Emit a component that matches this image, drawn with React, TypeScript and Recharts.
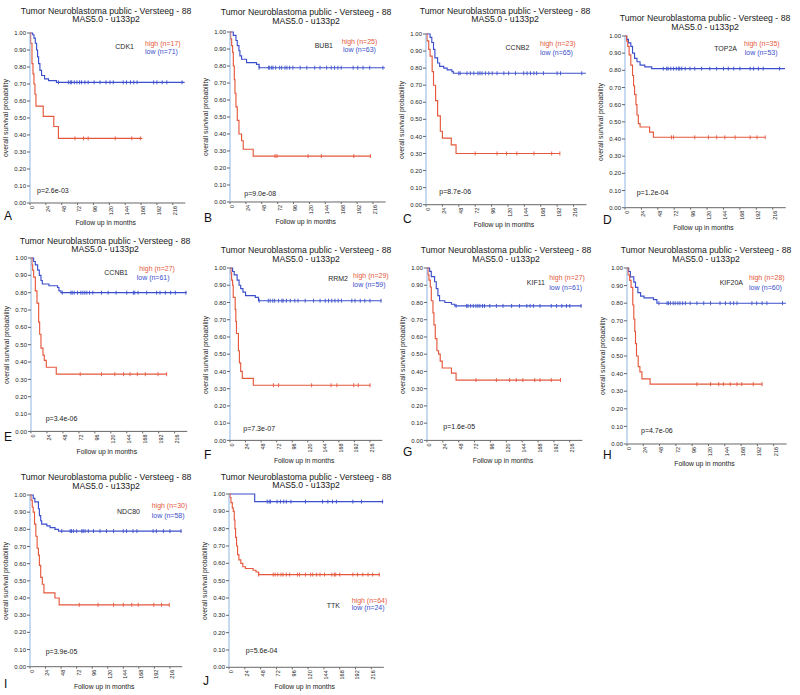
import React from 'react';
import { ComposedChart, Line, Scatter, XAxis, YAxis } from 'recharts';

type Pt = [number, number];

// ---------- data ----------
const xTicks = [0, 24, 48, 72, 96, 120, 144, 168, 192, 216];
const yTicks = [0, 0.1, 0.2, 0.3, 0.4, 0.5, 0.6, 0.7, 0.8, 0.9, 1.0];
const genes = ['CDK1', 'BUB1', 'CCNB2', 'TOP2A', 'CCNB1', 'RRM2', 'KIF11', 'KIF20A', 'NDC80', 'TTK'];
const nHigh = [17, 25, 23, 35, 27, 29, 27, 28, 30, 64];
const nLow = [71, 63, 65, 53, 61, 59, 61, 60, 58, 24];
const pValues = ['2.6e-03', '9.0e-08', '8.7e-06', '1.2e-04', '3.4e-06', '7.3e-07', '1.6e-05', '4.7e-06', '3.9e-05', '5.6e-04'];
const letters = ['A', 'B', 'C', 'D', 'E', 'F', 'G', 'H', 'I', 'J'];

const cdk1High: Pt[] = [[0, 1], [1, 0.94], [3, 0.82], [4.5, 0.76], [6, 0.7], [7.5, 0.64], [9, 0.57], [20, 0.51], [36, 0.45], [43, 0.38], [170, 0.38]];
const cdk1HighCens = [68, 81, 88, 129, 154, 167];
const cdk1Low: Pt[] = [[0, 1], [4, 0.99], [6, 0.97], [8, 0.94], [10, 0.9], [11.5, 0.86], [13, 0.82], [15, 0.78], [17.5, 0.75], [22, 0.73], [28, 0.72], [40, 0.71], [234, 0.71]];
const cdk1LowCens = [43, 58, 61, 63, 67, 71, 75, 78, 83, 88, 97, 106, 115, 121, 126, 141, 146, 152, 157, 162, 187, 192, 200, 207, 230];

const bub1High: Pt[] = [[0, 1], [1, 0.96], [2.5, 0.92], [4, 0.88], [5, 0.8], [6.5, 0.72], [7.5, 0.64], [9, 0.56], [11, 0.48], [13.5, 0.4], [17.5, 0.36], [20, 0.31], [35, 0.27], [213, 0.27]];
const bub1HighCens = [68, 71, 118, 138, 187, 212];
const bub1Low: Pt[] = [[0, 1], [5, 0.98], [9, 0.95], [11, 0.92], [13.5, 0.89], [15, 0.86], [17.5, 0.84], [25, 0.82], [40, 0.81], [44, 0.79], [234, 0.79]];
const bub1LowCens = [44, 58, 60, 63, 65, 69, 75, 78, 83, 86, 90, 95, 106, 116, 128, 136, 146, 153, 158, 163, 168, 186, 193, 201, 211, 231];

const ccnb2High: Pt[] = [[0, 1], [1.5, 0.96], [4, 0.91], [6, 0.87], [9, 0.78], [11, 0.7], [14, 0.61], [17, 0.52], [21, 0.43], [24, 0.39], [37, 0.35], [44, 0.3], [196, 0.3]];
const ccnb2HighCens = [72, 104, 118, 133, 158, 184, 196];
const ccnb2Low: Pt[] = [[0, 1], [6, 0.98], [8.5, 0.95], [11, 0.91], [13, 0.86], [17, 0.83], [20, 0.81], [26, 0.8], [31, 0.79], [38, 0.78], [40, 0.77], [234, 0.77]];
const ccnb2LowCens = [48, 50, 60, 65, 70, 76, 79, 82, 87, 92, 97, 104, 114, 121, 131, 143, 148, 153, 158, 162, 172, 192, 197, 228];

const top2aHigh: Pt[] = [[0, 1], [2.5, 0.97], [4, 0.94], [6, 0.89], [8.5, 0.83], [11, 0.77], [12.5, 0.71], [14, 0.66], [16, 0.6], [17.5, 0.54], [19.5, 0.49], [22, 0.47], [36, 0.44], [41.5, 0.41], [205, 0.41]];
const top2aHighCens = [68, 71, 102, 122, 134, 146, 161, 183, 193, 205];
const top2aLow: Pt[] = [[0, 1], [2.5, 0.98], [5, 0.96], [8.5, 0.94], [11, 0.9], [14, 0.87], [17.5, 0.85], [22, 0.83], [29, 0.82], [39, 0.81], [234, 0.81]];
const top2aLowCens = [56, 61, 63, 67, 71, 75, 78, 80, 83, 88, 95, 102, 112, 124, 134, 144, 151, 159, 168, 183, 188, 195, 202, 226];

const ccnb1High: Pt[] = [[0, 1], [1.5, 0.96], [2.5, 0.93], [4, 0.89], [6.5, 0.81], [9, 0.74], [11.5, 0.63], [13, 0.56], [15, 0.48], [18, 0.44], [20, 0.41], [23, 0.37], [38, 0.33], [204, 0.33]];
const ccnb1HighCens = [74, 106, 126, 139, 149, 160, 172, 191, 204];
const ccnb1Low: Pt[] = [[0, 1], [4, 0.98], [6.5, 0.96], [10, 0.93], [12.5, 0.9], [15, 0.87], [17, 0.85], [27, 0.84], [40, 0.83], [42, 0.81], [45, 0.8], [234, 0.8]];
const ccnb1LowCens = [47, 60, 62, 65, 70, 75, 78, 81, 84, 88, 93, 106, 116, 128, 144, 154, 156, 161, 174, 189, 194, 202, 210, 217, 233];

const rrm2High: Pt[] = [[0, 1], [1.5, 0.97], [2.5, 0.93], [4, 0.9], [5, 0.83], [8, 0.76], [9, 0.69], [10, 0.62], [13, 0.52], [14.5, 0.45], [16.5, 0.4], [19, 0.36], [36, 0.32], [217, 0.32]];
const rrm2HighCens = [67, 75, 126, 156, 165, 191, 198, 216];
const rrm2Low: Pt[] = [[0, 1], [4, 0.98], [6.5, 0.96], [11, 0.93], [14, 0.9], [16.5, 0.88], [20, 0.86], [24, 0.84], [39, 0.83], [44, 0.81], [234, 0.81]];
const rrm2LowCens = [45, 59, 62, 66, 69, 75, 80, 82, 87, 93, 100, 105, 116, 129, 139, 147, 152, 157, 162, 167, 172, 188, 193, 201, 208, 216, 233];

const kif11High: Pt[] = [[0, 1], [1.5, 0.96], [3, 0.93], [5, 0.89], [6.5, 0.81], [9, 0.74], [10.5, 0.67], [12.5, 0.59], [15, 0.52], [17.5, 0.5], [20, 0.46], [23, 0.42], [37, 0.39], [44, 0.35], [202, 0.35]];
const kif11HighCens = [74, 105, 125, 135, 145, 163, 171, 188, 202];
const kif11Low: Pt[] = [[0, 1], [4, 0.98], [6.5, 0.95], [11.5, 0.92], [14, 0.88], [16.5, 0.84], [19, 0.81], [27, 0.8], [37, 0.79], [42, 0.78], [234, 0.78]];
const kif11LowCens = [44, 60, 62, 66, 70, 74, 77, 80, 84, 87, 95, 105, 115, 128, 140, 151, 156, 161, 171, 188, 196, 204, 211, 216, 233];

const kif20aHigh: Pt[] = [[0, 1], [1.5, 0.96], [4, 0.93], [6, 0.89], [8.5, 0.79], [10, 0.71], [11.5, 0.64], [12.5, 0.57], [14, 0.5], [16.5, 0.44], [19, 0.41], [22, 0.37], [34, 0.34], [199, 0.34]];
const kif20aHighCens = [103, 123, 135, 142, 152, 162, 169, 186, 199];
const kif20aLow: Pt[] = [[0, 1], [2.5, 0.98], [5, 0.95], [10, 0.92], [12.5, 0.89], [16, 0.86], [20, 0.84], [25, 0.83], [39, 0.82], [44, 0.8], [234, 0.8]];
const kif20aLowCens = [47, 59, 61, 64, 68, 71, 75, 78, 82, 86, 93, 103, 113, 123, 137, 145, 152, 157, 162, 184, 191, 199, 206, 229];

const ndc80High: Pt[] = [[0, 1], [1.5, 0.97], [3.5, 0.93], [5, 0.9], [7, 0.83], [9, 0.76], [11, 0.69], [13, 0.65], [14.5, 0.59], [16.5, 0.52], [19, 0.48], [21.5, 0.43], [38.5, 0.4], [45, 0.36], [215, 0.36]];
const ndc80HighCens = [76, 105, 129, 144, 157, 167, 191, 203, 215];
const ndc80Low: Pt[] = [[0, 1], [5, 0.98], [7.5, 0.96], [13, 0.92], [14.5, 0.88], [16.5, 0.85], [18, 0.83], [26, 0.82], [31, 0.81], [38.5, 0.8], [44, 0.79], [234, 0.79]];
const ndc80LowCens = [49, 62, 64, 67, 72, 80, 82, 85, 90, 98, 108, 118, 129, 144, 149, 159, 165, 190, 195, 206, 216, 233];

const ttkHigh: Pt[] = [[0, 1], [1.5, 0.98], [3, 0.95], [5, 0.92], [6.5, 0.9], [8, 0.85], [9, 0.8], [10, 0.75], [11.5, 0.7], [13, 0.65], [15, 0.62], [18, 0.6], [21, 0.58], [25, 0.57], [36.5, 0.56], [41, 0.55], [45, 0.535], [229, 0.535]];
const ttkHighCens = [45, 67, 70, 74, 79, 82, 87, 92, 104, 107, 116, 124, 127, 133, 138, 145, 156, 160, 162, 168, 188, 195, 203, 211, 218, 228];
const ttkLow: Pt[] = [[0, 1], [39, 0.956], [234, 0.956]];
const ttkLowCens = [58, 61, 63, 73, 78, 83, 87, 94, 116, 142, 150, 157, 163, 188, 201, 233];

const highCurves = [cdk1High, bub1High, ccnb2High, top2aHigh, ccnb1High, rrm2High, kif11High, kif20aHigh, ndc80High, ttkHigh];
const highCensors = [cdk1HighCens, bub1HighCens, ccnb2HighCens, top2aHighCens, ccnb1HighCens, rrm2HighCens, kif11HighCens, kif20aHighCens, ndc80HighCens, ttkHighCens];
const lowCurves = [cdk1Low, bub1Low, ccnb2Low, top2aLow, ccnb1Low, rrm2Low, kif11Low, kif20aLow, ndc80Low, ttkLow];
const lowCensors = [cdk1LowCens, bub1LowCens, ccnb2LowCens, top2aLowCens, ccnb1LowCens, rrm2LowCens, kif11LowCens, kif20aLowCens, ndc80LowCens, ttkLowCens];

// ---------- layout ----------
const X_MAX = 235;
type Layout = {
  x0: number; y1: number; y0: number; s: number;
  titleX: number; titleY: number;
  geneR: number; geneY: number; hx: number; hy: number; lx: number; ly: number;
  px: number; py: number; letX: number; letY: number;
};
const layouts: Layout[] = [
  { x0: 30, y1: 33, y0: 203, s: 0.661, titleX: 106, titleY: 10.7, geneR: 134, geneY: 46, hx: 145, hy: 43, lx: 145, ly: 51, px: 37, py: 190, letX: 4, letY: 216 },
  { x0: 230, y1: 32, y0: 202, s: 0.662, titleX: 306, titleY: 12.3, geneR: 333, geneY: 45, hx: 341.7, hy: 41, lx: 343, ly: 49.3, px: 244.3, py: 193.3, letX: 204, letY: 218 },
  { x0: 425.7, y1: 34.3, y0: 205, s: 0.683, titleX: 505, titleY: 10.7, geneR: 529.3, geneY: 47, hx: 540, hy: 42.7, lx: 540, ly: 51.7, px: 439.3, py: 190.7, letX: 403, letY: 219 },
  { x0: 625, y1: 36, y0: 207.7, s: 0.684, titleX: 705, titleY: 18.3, geneR: 737, geneY: 48, hx: 744, hy: 43.3, lx: 744.7, ly: 51.7, px: 636.7, py: 192.3, letX: 603, letY: 220 },
  { x0: 30.7, y1: 258.3, y0: 431.7, s: 0.665, titleX: 105, titleY: 240.7, geneR: 128, geneY: 272, hx: 139.3, hy: 267.7, lx: 136.7, ly: 276.7, px: 45.7, py: 417.7, letX: 4, letY: 437 },
  { x0: 230, y1: 268.3, y0: 440.7, s: 0.648, titleX: 306, titleY: 250, geneR: 348, geneY: 278.3, hx: 353, hy: 275, lx: 352.7, ly: 284.3, px: 243.3, py: 427.7, letX: 204, letY: 455 },
  { x0: 427.3, y1: 268.3, y0: 440.7, s: 0.661, titleX: 506, titleY: 250, geneR: 545, geneY: 282, hx: 549.3, hy: 276.7, lx: 549.3, ly: 286.7, px: 443.3, py: 425.7, letX: 403, letY: 452 },
  { x0: 626.7, y1: 268.3, y0: 444.3, s: 0.679, titleX: 706, titleY: 250, geneR: 743, geneY: 281.7, hx: 749, hy: 276.7, lx: 749, ly: 286.7, px: 641, py: 430, letX: 603, letY: 455 },
  { x0: 30, y1: 495, y0: 666.7, s: 0.648, titleX: 106, titleY: 477.3, geneR: 140, geneY: 510.7, hx: 151.7, hy: 505, lx: 151.7, ly: 515, px: 45.7, py: 650.7, letX: 4, letY: 684 },
  { x0: 229.3, y1: 494, y0: 667.3, s: 0.659, titleX: 306, titleY: 476.7, geneR: 340, geneY: 605, hx: 351.7, hy: 600, lx: 351.7, ly: 607.3, px: 245.7, py: 650, letX: 203, letY: 681 },
];

const RED = '#e5583d';
const BLUE = '#3b4fcc';
const FONT = '"Liberation Sans", Arial, Helvetica, sans-serif';

const toRows = (pts: Pt[]) => pts.map(([t, s]) => ({ t, s }));
const survAt = (pts: Pt[], t: number) => {
  let s = pts[0][1];
  for (const [tt, ss] of pts) if (tt <= t) s = ss;
  return s;
};
const censorRows = (pts: Pt[], times: number[]) => times.map((t) => ({ t, s: survAt(pts, t) }));

const makeTick = (color: string) => (props: any) => {
  const { cx, cy } = props;
  if (cx == null || cy == null) return <g />;
  return <line x1={cx} x2={cx} y1={cy - 2} y2={cy + 2} stroke={color} strokeWidth={0.9} />;
};
const redTick = makeTick(RED);
const blueTick = makeTick(BLUE);

type TxtProps = { x: number; y: number; size: number; color?: string; anchor?: 'start' | 'middle' | 'end'; children: React.ReactNode; rotate?: boolean };
const Txt = ({ x, y, size, color = '#1a1a1a', anchor = 'start', children, rotate }: TxtProps) => {
  const tx = anchor === 'start' ? '0' : anchor === 'middle' ? '-50%' : '-100%';
  return (
    <div
      style={{
        position: 'absolute', left: x, top: y, fontSize: size, color, fontFamily: FONT,
        whiteSpace: 'nowrap', lineHeight: 1,
        transform: rotate ? 'translate(-50%, -50%) rotate(-90deg)' : `translate(${tx}, -50%)`,
      }}
    >
      {children}
    </div>
  );
};

const ML = 30, MT = 5, MR = 5, XH = 18;

const Panel = ({ i }: { i: number }) => {
  const L = layouts[i];
  const pw = X_MAX * L.s;
  const ph = L.y0 - L.y1;
  const hi = highCurves[i], lo = lowCurves[i];
  return (
    <>
      <div style={{ position: 'absolute', left: L.x0 - ML, top: L.y1 - MT }}>
        <ComposedChart width={pw + ML + MR} height={ph + MT + XH} margin={{ top: MT, right: MR, left: 0, bottom: 0 }}>
          <XAxis
            type="number" dataKey="t" domain={[0, X_MAX]} ticks={xTicks} interval={0} height={XH}
            angle={-90} textAnchor="end" tick={{ fontSize: 5.5, fill: '#222', fontFamily: FONT }}
            tickSize={2} tickMargin={1} stroke="#666" allowDataOverflow
          />
          <YAxis
            type="number" dataKey="s" domain={[0, 1]} ticks={yTicks} width={ML} interval={0}
            tickFormatter={(v: number) => v.toFixed(2)} tick={{ fontSize: 6, fill: '#222', fontFamily: FONT }}
            tickSize={3} tickMargin={1} axisLine={{ stroke: '#8db4e2' }} tickLine={{ stroke: '#666' }}
          />
          <Line data={toRows(lo)} dataKey="s" type="stepAfter" stroke={BLUE} strokeWidth={1.15} dot={false} activeDot={false} isAnimationActive={false} />
          <Line data={toRows(hi)} dataKey="s" type="stepAfter" stroke={RED} strokeWidth={1.15} dot={false} activeDot={false} isAnimationActive={false} />
          <Scatter data={censorRows(lo, lowCensors[i])} dataKey="s" shape={blueTick} isAnimationActive={false} />
          <Scatter data={censorRows(hi, highCensors[i])} dataKey="s" shape={redTick} isAnimationActive={false} />
        </ComposedChart>
      </div>
      <Txt x={L.titleX} y={L.titleY} size={8.7} anchor="middle">Tumor Neuroblastoma public - Versteeg - 88</Txt>
      <Txt x={L.titleX} y={L.titleY + 8.6} size={8.7} anchor="middle">MAS5.0 - u133p2</Txt>
      <Txt x={L.geneR} y={L.geneY} size={7} anchor="end" color="#2a2a2a">{genes[i]}</Txt>
      <Txt x={L.hx} y={L.hy} size={7} color={RED}>{`high (n=${nHigh[i]})`}</Txt>
      <Txt x={L.lx} y={L.ly} size={7} color={BLUE}>{`low (n=${nLow[i]})`}</Txt>
      <Txt x={L.px} y={L.py} size={7}>{`p=${pValues[i]}`}</Txt>
      <Txt x={L.x0 + pw / 2 - 2} y={L.y0 + 20} size={6.8} anchor="middle">Follow up in months</Txt>
      <Txt x={L.x0 - 24} y={(L.y0 + L.y1) / 2} size={6.8} rotate>overall survival probability</Txt>
      <Txt x={L.letX} y={L.letY} size={12} color="#111">{letters[i]}</Txt>
    </>
  );
};

export default function App() {
  return (
    <div style={{ position: 'absolute', left: 0, top: 0, width: 800, height: 695, background: '#fff', overflow: 'hidden' }}>
      {layouts.map((_, i) => (
        <Panel key={i} i={i} />
      ))}
    </div>
  );
}
